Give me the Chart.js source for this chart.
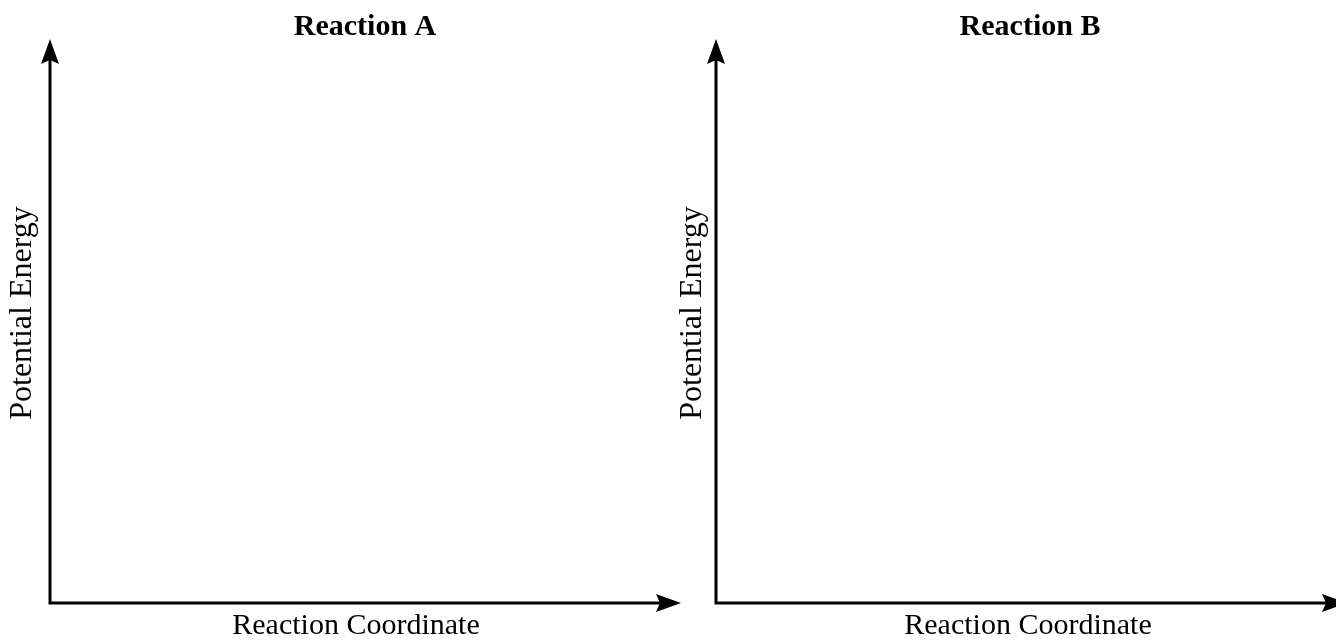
<!DOCTYPE html>
<html>
<head>
<meta charset="utf-8">
<script src="https://cdn.jsdelivr.net/npm/chart.js@4.4.1/dist/chart.umd.min.js"></script>
<style>
  body { margin: 0; background: #fff; overflow: hidden; width: 1336px; height: 641px; position: relative; }
  canvas { position: absolute; top: 0; }
</style>
</head>
<body>
<canvas id="chartA" width="730" height="641" style="left:0"></canvas>
<canvas id="chartB" width="728" height="641" style="left:666px"></canvas>
<script>
// empty energy diagrams, just the axes
const panelTitles = ['Reaction A', 'Reaction B'];
const xLabel = 'Reaction Coordinate';
const yLabel = 'Potential Energy';
const xRange = [0, 10];
const yRange = [0, 10];
const energyA = [];
const energyB = [];

const serif = 'Liberation Serif, Times New Roman, serif';

// axis lines with arrow heads
const arrowAxes = {
  id: 'arrowAxes',
  afterDraw(chart, args, opts) {
    const c = chart.ctx;
    const x0 = chart.scales.x.left;
    const y0 = chart.scales.y.bottom;
    const yTip = chart.scales.y.top + opts.yTip;
    const xTip = chart.scales.x.right + opts.xTip;
    c.save();
    c.strokeStyle = '#000';
    c.fillStyle = '#000';
    c.lineWidth = 3;
    c.beginPath();
    c.moveTo(x0, y0 + 1.5);
    c.lineTo(x0, yTip + 20);
    c.moveTo(x0 - 1.5, y0);
    c.lineTo(xTip - 20, y0);
    c.stroke();
    // up arrow
    c.beginPath();
    c.moveTo(x0, yTip);
    c.lineTo(x0 + 9, yTip + 25);
    c.lineTo(x0, yTip + 21);
    c.lineTo(x0 - 9, yTip + 25);
    c.closePath();
    c.fill();
    // right arrow
    c.beginPath();
    c.moveTo(xTip, y0);
    c.lineTo(xTip - 25, y0 - 9);
    c.lineTo(xTip - 21, y0);
    c.lineTo(xTip - 25, y0 + 9);
    c.closePath();
    c.fill();
    c.restore();
  }
};

function makePanel(id, title, data, padRight, yTitlePad, xTip) {
  return new Chart(document.getElementById(id), {
    type: 'line',
    data: {
      datasets: [{ label: title, data: data, borderColor: '#000', pointRadius: 0 }]
    },
    options: {
      responsive: false,
      devicePixelRatio: 1,
      animation: false,
      layout: { padding: 0 },
      plugins: {
        legend: { display: false },
        tooltip: { enabled: false },
        title: {
          display: true,
          text: title,
          color: '#000',
          font: { family: serif, size: 30, weight: 'bold', lineHeight: 1 },
          padding: { top: 12, bottom: -19 }
        },
        arrowAxes: { yTip: 16, xTip: xTip }
      },
      scales: {
        x: {
          type: 'linear',
          min: xRange[0],
          max: xRange[1],
          grid: { display: false },
          border: { display: false },
          ticks: { display: false },
          title: {
            display: true,
            text: xLabel,
            color: '#000',
            font: { family: serif, size: 30, lineHeight: 1 },
            padding: { top: 0, bottom: 0 }
          },
          afterFit: s => { s.height = 38; }
        },
        y: {
          type: 'linear',
          min: yRange[0],
          max: yRange[1],
          grid: { display: false },
          border: { display: false },
          ticks: { display: false },
          title: {
            display: true,
            text: yLabel,
            color: '#000',
            font: { family: serif, size: 32, lineHeight: 1 },
            padding: { top: yTitlePad, bottom: 0 }
          },
          afterFit: s => { s.width = 50; }
        },
        // blank right axis, only keeps room for the arrow head
        yRight: {
          type: 'linear',
          position: 'right',
          min: yRange[0],
          max: yRange[1],
          grid: { display: false },
          border: { display: false },
          ticks: { display: false },
          afterFit: s => { s.width = padRight; }
        }
      }
    },
    plugins: [arrowAxes]
  });
}

makePanel('chartA', panelTitles[0], energyA, 68, 7, 19);
makePanel('chartB', panelTitles[1], energyB, 54, 11, 7);
</script>
</body>
</html>
